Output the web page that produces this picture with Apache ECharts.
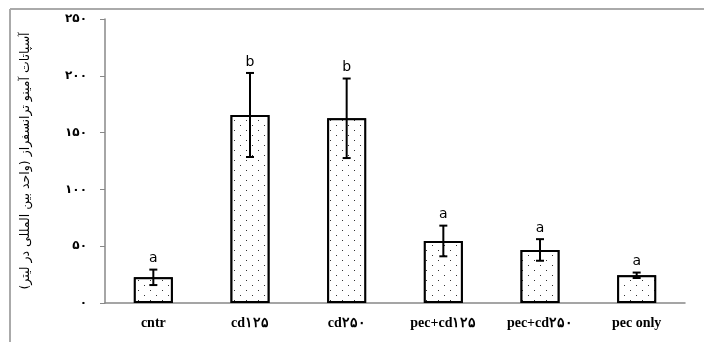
<!DOCTYPE html>
<html><head><meta charset="utf-8">
<script src="https://cdn.jsdelivr.net/npm/echarts@6/dist/echarts.min.js"></script>
<style>html,body{margin:0;padding:0;background:#fff}#c{width:704px;height:342px}</style>
</head><body><div id="c"></div>
<script>
var categories = ['cntr', 'cd۱۲۵', 'cd۲۵۰', 'pec+cd۱۲۵', 'pec+cd۲۵۰', 'pec only'];
var values = [22.6, 165.5, 162.6, 54.6, 46.7, 24.4];
var errors = [6.8, 37, 35, 13.5, 9.5, 2.4];
var letters = ['a', 'b', 'b', 'a', 'a', 'a'];
var yTickLabels = {0: '۰', 50: '۵۰', 100: '۱۰۰', 150: '۱۵۰', 200: '۲۰۰', 250: '۲۵۰'};
var yTitle = 'آسپاتات آمینو ترانسفراز (واحد بین المللی در لیتر)';

var chart = echarts.init(document.getElementById('c'), null, {renderer: 'canvas'});
var errData = values.map(function (v, i) { return [i, v - errors[i], v + errors[i]]; });
chart.setOption({
  animation: false,
  grid: {left: 105, right: 19, top: 19, bottom: 39},
  graphic: [
    {type: 'line', shape: {x1: 10, y1: 9, x2: 10, y2: 342}, style: {stroke: '#aaa', lineWidth: 2}},
    {type: 'line', shape: {x1: 10, y1: 9, x2: 704, y2: 9}, style: {stroke: '#aaa', lineWidth: 2}}
  ],
  xAxis: {
    type: 'category', data: categories,
    axisLine: {lineStyle: {color: '#888', width: 1.5}},
    axisTick: {show: false},
    axisLabel: {margin: 13, color: '#000', fontFamily: 'Liberation Serif', fontWeight: 'bold', fontSize: 14}
  },
  yAxis: {
    type: 'value', min: 0, max: 250, interval: 50,
    name: yTitle, nameLocation: 'middle', nameGap: 73, nameRotate: 90,
    nameTextStyle: {fontFamily: 'DejaVu Sans', fontSize: 12.5, color: '#000'},
    splitLine: {show: false},
    axisLine: {show: true, lineStyle: {color: '#888', width: 1.5}},
    axisTick: {show: true, inside: false, length: 5, lineStyle: {color: '#888'}},
    axisLabel: {margin: 18, color: '#000', fontFamily: 'DejaVu Sans', fontWeight: 'bold', fontSize: 12,
      formatter: function (v) { return yTickLabels[v]; }}
  },
  series: [
    {
      type: 'bar', data: values, barWidth: 39,
      itemStyle: {
        color: '#fff', borderColor: '#000', borderWidth: 2,
        decal: {
          symbol: 'rect', symbolSize: 1, color: '#333', backgroundColor: '#fff',
          dashArrayX: [[1, 11], [0, 6, 1, 5]], dashArrayY: [1, 3.5], rotation: 0
        }
      }
    },
    {
      type: 'custom', data: errData, z: 10,
      renderItem: function (params, api) {
        var x = api.value(0);
        var lo = api.coord([x, api.value(1)]);
        var hi = api.coord([x, api.value(2)]);
        var cw = 4;
        var st = {stroke: '#000', lineWidth: 2};
        return {type: 'group', children: [
          {type: 'line', shape: {x1: hi[0], y1: hi[1], x2: lo[0], y2: lo[1]}, style: st},
          {type: 'line', shape: {x1: hi[0] - cw, y1: hi[1], x2: hi[0] + cw, y2: hi[1]}, style: st},
          {type: 'line', shape: {x1: lo[0] - cw, y1: lo[1], x2: lo[0] + cw, y2: lo[1]}, style: st},
          {type: 'text', style: {text: letters[params.dataIndex], x: hi[0], y: hi[1] - 4,
            textAlign: 'center', textVerticalAlign: 'bottom', fill: '#000',
            font: '14px "DejaVu Sans"'}}
        ]};
      }
    }
  ]
});
</script></body></html>
